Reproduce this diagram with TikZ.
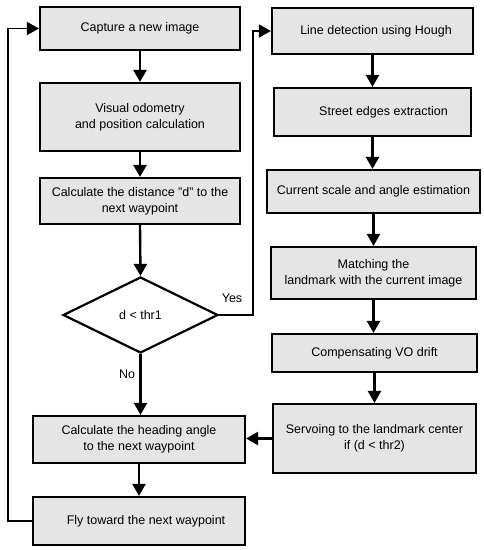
\documentclass[tikz,border=0pt]{standalone}
\usepackage{fontspec}
\setmainfont{Liberation Sans}
\usetikzlibrary{shapes.geometric,arrows.meta}
\begin{document}
\begin{tikzpicture}[x=1pt,y=-1pt,
  box/.style={draw=black, line width=2.2pt, fill=gray!20, inner sep=0pt, align=center,
    font=\fontsize{12.5}{16}\selectfont},
  dec/.style={draw=black, line width=2.2pt, fill=white, diamond, inner sep=0pt,
    minimum width=155pt, minimum height=76pt, font=\fontsize{12.5}{16}\selectfont},
  arr/.style={line width=2.4pt, -{Triangle[length=12pt,width=13pt]}},
  looparr/.style={line width=1.7pt, -{Triangle[length=12pt,width=13pt]}},
  lbl/.style={font=\fontsize{12.5}{16}\selectfont, inner sep=0pt}]
\useasboundingbox (0,0) rectangle (484,550);
% left column
\node[box, minimum width=200pt, minimum height=43pt] (cap) at (140,28.5) {Capture a new image};
\node[box, minimum width=200pt, minimum height=68pt] (vo) at (140,117) {Visual odometry\\and position calculation};
\node[box, minimum width=200pt, minimum height=46pt] (dist) at (140,201) {Calculate the distance "d" to the\\next waypoint};
\node[dec] (dia) at (140.5,315) {d < thr1};
\node[box, minimum width=212pt, minimum height=47pt] (head) at (139,439.5) {Calculate the heading angle\\to the next waypoint};
\node[box, minimum width=212pt, minimum height=48pt] (fly) at (139,521) {\hspace*{14pt}Fly toward the next waypoint};
% right column
\node[box, minimum width=201pt, minimum height=46pt] (ld) at (372.5,31) {\hspace*{7pt}Line detection using Hough};
\node[box, minimum width=197pt, minimum height=48pt] (se) at (372.5,112) {\hspace*{22pt}Street edges extraction};
\node[box, minimum width=213pt, minimum height=43pt] (cs) at (373.5,191.5) {Current scale and angle estimation};
\node[box, minimum width=205pt, minimum height=52pt] (mt) at (373.5,273) {Matching the\\landmark with the current image};
\node[box, minimum width=205pt, minimum height=38pt] (co) at (374.5,353) {Compensating VO drift};
\node[box, minimum width=203pt, minimum height=69pt] (sv) at (374.5,438.5) {Servoing to the landmark center\\if (d < thr2)};
% labels
\node[lbl] (yes) at (232,298) {Yes};
\node[lbl] (no) at (127,374) {No};
% loop coordinates
\coordinate (lb) at (8,521);
\coordinate (lt) at (8,28.5);
\coordinate (yb) at (253,315);
\coordinate (yt) at (253,31);
% arrows left
\draw[arr] (cap.south) -- (vo.north);
\draw[arr] (vo.south) -- (dist.north);
\draw[arr] (dist.south) -- (dia.north);
\draw[arr] (dia.south) -- (dia.south |- head.north);
\draw[arr] (head.south) -- (fly.north);
\draw[looparr] (fly.west) -- (lb) -- (lt) -- (cap.west);
\draw[looparr] (dia.east) -- (yb) -- (yt) -- (ld.west);
% arrows right
\draw[arr] (ld.south) -- (ld.south |- se.north);
\draw[arr] (se.south) -- (se.south |- cs.north);
\draw[arr] (cs.south) -- (cs.south |- mt.north);
\draw[arr] (mt.south) -- (mt.south |- co.north);
\draw[arr] (co.south) -- (co.south |- sv.north);
\draw[arr] (sv.west) -- (sv.west -| head.east);
\end{tikzpicture}
\end{document}
